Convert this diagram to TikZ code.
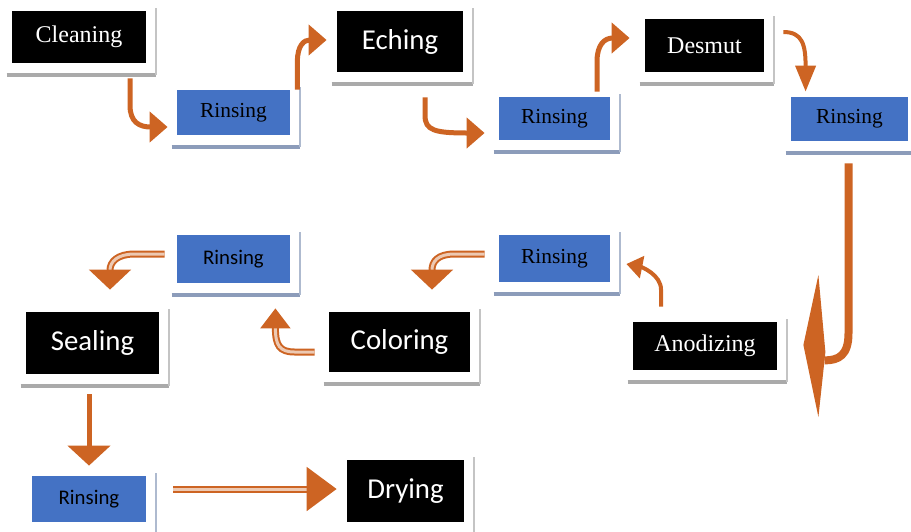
\documentclass[tikz,border=0pt]{standalone}
\usepackage{fontspec}
\setmainfont{Liberation Serif}
\newfontfamily\calibfont{Carlito}
\usetikzlibrary{arrows.meta}
\usetikzlibrary{calc}
\definecolor{flowcol}{RGB}{205,100,35}
\definecolor{boxblue}{RGB}{68,114,196}
\definecolor{greyshade}{RGB}{170,170,170}
\definecolor{blueshade}{RGB}{140,156,186}

\begin{document}
\begin{tikzpicture}[x=0.5pt,y=-0.5pt] % one unit = one pixel, y downwards
	\tikzset{blackbox/.style={fill=black,text=white,inner sep=0pt},
		rinsebox/.style={fill=boxblue,text=black,inner sep=0pt},
		serifbig/.style={font=\fontsize{12}{14}\selectfont},
		serifsmall/.style={font=\fontsize{10.7}{13}\selectfont},
		sansbig/.style={font=\calibfont\fontsize{14.4}{17}\selectfont},
		sanssmall/.style={font=\calibfont\fontsize{10.4}{12}\selectfont},
		flow/.style={draw=flowcol,line width=2.5pt,-{Triangle[width=15pt,length=9pt]}},
		dflow/.style={draw=flowcol,double=flowcol!35,line width=1pt,double distance=1.5pt,-{Triangle[width=21pt,length=10pt]}}}
	
	\useasboundingbox (0,0) rectangle (911,531);
	
	% Top row
	\node[blackbox,serifbig,minimum width=67pt,minimum height=26pt] (clean) at (79,37) {Cleaning};
	\node[rinsebox,serifsmall,minimum width=56.5pt,minimum height=22.5pt] (rinseA) at (233.5,112.5) {Rinsing};
	\node[blackbox,sansbig,minimum width=63pt,minimum height=30.5pt] (eching) at (400,41.5) {Eching};
	\node[rinsebox,serifsmall,minimum width=55.5pt,minimum height=21.5pt] (rinseB) at (554.5,118.5) {Rinsing};
	\node[blackbox,serifbig,minimum width=59.5pt,minimum height=26.5pt] (desmut) at (704.5,45.5) {Desmut};
	\node[rinsebox,serifsmall,minimum width=58.5pt,minimum height=22pt] (rinseC) at (849.5,119) {Rinsing};
	
	% Middle row
	\node[blackbox,serifbig,minimum width=72pt,minimum height=24pt] (anod) at (705,346) {Anodizing};
	\node[rinsebox,serifsmall,minimum width=55.5pt,minimum height=23.5pt] (rinseD) at (554.5,258.5) {Rinsing};
	\node[blackbox,sansbig,minimum width=70.5pt,minimum height=30pt] (color) at (399.5,342) {Coloring};
	\node[rinsebox,sanssmall,minimum width=56.5pt,minimum height=24pt] (rinseE) at (233.5,259) {Rinsing};
	\node[blackbox,sansbig,minimum width=66.5pt,minimum height=31pt] (seal) at (92.5,343) {Sealing};
	
	% Bottom row
	\node[rinsebox,sanssmall,minimum width=57pt,minimum height=23pt] (rinseF) at (89,499) {Rinsing};
	\node[blackbox,sansbig,minimum width=58.5pt,minimum height=31pt] (dry) at (405.5,491) {Drying};
	
	% Frame shadows
	\foreach \n in {clean,eching,desmut,anod,color,seal,dry}
	{
		\draw[greyshade,line width=2pt] ($(\n.south west)+(-5,12)$) -- ($(\n.south east)+(10,12)$);
		\draw[greyshade!70,line width=1pt] ($(\n.south east)+(10,12)$) -- ($(\n.north east)+(10,-3)$);
	}
	\foreach \n in {rinseA,rinseB,rinseC,rinseD,rinseE,rinseF}
	{
		\draw[blueshade,line width=2pt] ($(\n.south west)+(-5,12)$) -- ($(\n.south east)+(10,12)$);
		\draw[blueshade!70,line width=1pt] ($(\n.south east)+(10,12)$) -- ($(\n.north east)+(10,-3)$);
	}
	
	% Arrows along the top row
	\draw[flow] ($(clean.south)+(51,15)$) -- ++(0,27) .. controls +(0,17) and +(-28,0) .. ($(rinseA.west)+(-9,14.5)$);
	\draw[flow] ($(rinseA.north east)+(7,0)$) -- ++(0,-28) .. controls +(0,-17) and +(-22,0) .. ($(eching.west)+(-10,-1.5)$);
	\draw[flow] ($(eching.south)+(25,25)$) -- ++(0,18) .. controls +(0,15) and +(-50,0) .. ($(rinseB.west)+(-14,14.5)$);
	\draw[flow] ($(rinseB.north)+(42.5,-5)$) -- ++(0,-30) .. controls +(0,-17) and +(-25,0) .. ($(desmut.west)+(-15,-7.5)$);
	\draw[flow,line width=2pt,-{Triangle[width=10pt,length=13pt]}] ($(desmut.east)+(19,-13.5)$) .. controls +(19,0) and +(0,-47) .. ($(rinseC.north west)+(15,-5)$);
	
	% Big hook down to anodizing
	\draw[flowcol,line width=4pt] ($(rinseC.south)+(-1,22)$) -- ++(0,170) .. controls +(0,22) and +(14,0) .. ++(-24,27);
	\coordinate (jtip) at ($(anod.east)+(41,71)$);
	\fill[flowcol] (jtip) -- ++(-15,-72) -- ++(15,-70) -- ++(7,77) -- cycle;
	
	% Arrows back to the left
	\draw[flow,line width=2pt,-{Triangle[width=11pt,length=8pt]}] ($(anod.north)+(-44,-15)$) -- ++(0,-17) .. controls +(0,-15) and +(15,3) .. ($(rinseD.east)+(16,5.5)$);
	\draw[dflow] ($(rinseD.west)+(-14,-4.5)$) -- ++(-30,0) .. controls +(-17,0) and +(0,-28) .. ($(color.north)+(32.5,-22)$);
	\draw[dflow,-{Triangle[width=15pt,length=10pt]}] ($(color.west)+(-14,10)$) -- ++(-20,0) .. controls +(-15,0) and +(0,37) .. ($(rinseE.south east)+(-15,25)$);
	\draw[dflow] ($(rinseE.west)+(-12,-5)$) -- ++(-30,0) .. controls +(-17,0) and +(0,-28) .. ($(seal.north)+(17.5,-22)$);
	
	% Last steps
	\draw[flow,-{Triangle[width=21pt,length=10pt]}] ($(seal.south)+(-3.5,20)$) -- ($(rinseF.north)+(0,-10)$);
	\draw[dflow,-{Triangle[width=22pt,length=15pt]}] ($(rinseF.east)+(27,-10)$) -- ($(dry.west)+(-10,-2)$);
	
\end{tikzpicture}
\end{document}
